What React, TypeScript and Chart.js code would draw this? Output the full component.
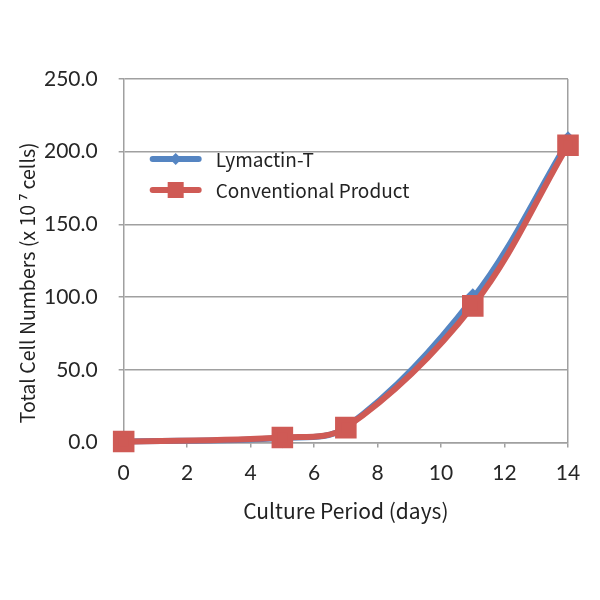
import { useEffect, useRef } from 'react'
import { Chart, ChartConfiguration, Plugin, registerables } from 'chart.js'

Chart.register(...registerables)

// culture days and cell counts (x 10^7 cells)
const days = [0, 5, 7, 11, 14]
const lymactin = [0.7, 3.2, 10.5, 99, 207]
const conventional = [0.7, 3.5, 10.3, 94, 204.5]
const seriesNames = ['Lymactin-T', 'Conventional Product']
const yTitle = 'Total Cell Numbers (x 10 ⁷ cells)'

const BLUE = '#5585c2'
const RED = '#cf5a55'
const GRID = '#a0a0a0'
const TITLE_FONT = '"Noto Sans CJK JP", "Noto Sans", sans-serif'
const TICK_FONT = 'Lato, "Open Sans", sans-serif'

// legend drawn inside the plot, upper left
const insideLegend: Plugin = {
  id: 'insideLegend',
  afterDraw(chart) {
    const { ctx, chartArea } = chart
    const x0 = chartArea.left + 29
    const rows = [
      { y: chartArea.top + 80, color: BLUE, shape: 'diamond', label: seriesNames[0] },
      { y: chartArea.top + 111, color: RED, shape: 'square', label: seriesNames[1] },
    ]
    ctx.save()
    rows.forEach((r) => {
      ctx.strokeStyle = r.color
      ctx.lineWidth = 6
      ctx.lineCap = 'round'
      ctx.beginPath()
      ctx.moveTo(x0, r.y)
      ctx.lineTo(x0 + 46, r.y)
      ctx.stroke()
      ctx.fillStyle = r.color
      const cx = x0 + 23
      if (r.shape === 'square') {
        ctx.fillRect(cx - 8, r.y - 8, 16, 16)
      } else {
        ctx.beginPath()
        ctx.moveTo(cx, r.y - 6)
        ctx.lineTo(cx + 6, r.y)
        ctx.lineTo(cx, r.y + 6)
        ctx.lineTo(cx - 6, r.y)
        ctx.closePath()
        ctx.fill()
      }
      ctx.fillStyle = '#222'
      ctx.font = `19px ${TITLE_FONT}`
      ctx.textBaseline = 'middle'
      ctx.textAlign = 'left'
      ctx.fillText(r.label, x0 + 63, r.y + 1)
    })
    ctx.restore()
  },
}

// rotated y axis title, placed like the original (a bit below centre)
const yAxisTitle: Plugin = {
  id: 'yAxisTitle',
  afterDraw(chart) {
    const { ctx, chartArea } = chart
    const cy = (chartArea.top + chartArea.bottom) / 2 + 22
    ctx.save()
    ctx.translate(28, cy)
    ctx.rotate(-Math.PI / 2)
    ctx.fillStyle = '#222'
    ctx.font = `19.5px ${TITLE_FONT}`
    ctx.textAlign = 'center'
    ctx.textBaseline = 'middle'
    ctx.fillText(yTitle, 0, 0)
    ctx.restore()
  },
}

function GrowthChart() {
  const canvasRef = useRef<HTMLCanvasElement>(null)
  const chartRef = useRef<Chart | null>(null)

  useEffect(() => {
    if (!canvasRef.current) return
    const ctx = canvasRef.current.getContext('2d')
    if (!ctx) return

    if (chartRef.current) {
      chartRef.current.destroy()
    }

    const config: ChartConfiguration = {
      type: 'line',
      data: {
        datasets: [
          {
            label: seriesNames[1],
            data: days.map((d, i) => ({ x: d, y: conventional[i] })),
            borderColor: RED,
            backgroundColor: RED,
            borderWidth: 6,
            pointStyle: 'rect',
            pointRadius: 11,
            pointHoverRadius: 11,
            tension: 0.35,
            clip: false,
            order: 0,
          },
          {
            label: seriesNames[0],
            data: days.map((d, i) => ({ x: d, y: lymactin[i] })),
            borderColor: BLUE,
            backgroundColor: BLUE,
            borderWidth: 6,
            pointStyle: 'rectRot',
            pointRadius: 6,
            pointHoverRadius: 6,
            tension: 0.35,
            clip: false,
            order: 1,
          },
        ],
      },
      options: {
        responsive: true,
        maintainAspectRatio: false,
        animation: false,
        layout: {
          padding: { left: 23, right: 32, top: 79, bottom: 76 },
        },
        plugins: {
          legend: { display: false },
          tooltip: { enabled: false },
        },
        scales: {
          x: {
            type: 'linear',
            min: 0,
            max: 14,
            ticks: {
              stepSize: 2,
              padding: 13,
              color: '#262626',
              font: { family: TICK_FONT, size: 21 },
            },
            grid: {
              drawOnChartArea: true,
              color: (c) => (c.tick && c.tick.value === 14 ? GRID : 'transparent'),
              tickColor: GRID,
              tickLength: 5,
              lineWidth: 1.5,
            },
            border: { color: GRID, width: 1.5 },
            title: {
              display: true,
              text: 'Culture Period (days)',
              color: '#222',
              font: { family: TITLE_FONT, size: 21 },
              padding: { top: 0, bottom: 0 },
            },
          },
          y: {
            min: 0,
            max: 250,
            ticks: {
              stepSize: 50,
              padding: 21,
              color: '#262626',
              font: { family: TICK_FONT, size: 21 },
              callback: (v) => Number(v).toFixed(1),
            },
            grid: {
              color: GRID,
              tickColor: GRID,
              tickLength: 5,
              lineWidth: 1.5,
            },
            border: { color: GRID, width: 1.5 },
          },
        },
      },
      plugins: [insideLegend, yAxisTitle],
    }

    chartRef.current = new Chart(ctx, config)

    return () => {
      chartRef.current?.destroy()
    }
  }, [])

  return (
    <div style={{ position: 'absolute', left: 0, top: 0, width: 600, height: 600, background: '#fff' }}>
      <canvas ref={canvasRef} />
    </div>
  )
}

export default function App() {
  return <GrowthChart />
}
